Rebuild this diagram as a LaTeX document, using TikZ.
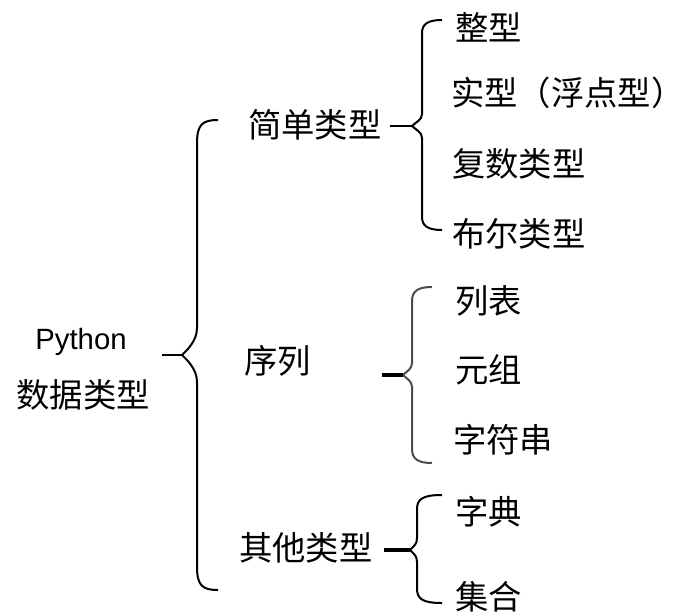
\documentclass[tikz,border=0pt]{standalone}
\usepackage{fontspec}
\setmainfont{Noto Sans CJK SC}
\newfontfamily\latinfont{Liberation Sans}
\newfontfamily\halfpunct[RawFeature=+halt]{Noto Sans CJK SC}
\newcommand\drawbrace[9]{% #1 style, #2 xe, #3 xv, #4 xt, #5 yt, #6 ym, #7 yb, #8 hook, #9 tip half-height
  \draw[#1] (#2,#5) .. controls (#3+6,#5) and (#3,#5+4) .. (#3,#5+#8)
    -- (#3,#6-#9) .. controls (#3,#6-#9/2) and (#4+4,#6-4) .. (#4,#6)
    .. controls (#4+4,#6+4) and (#3,#6+#9/2) .. (#3,#6+#9)
    -- (#3,#7-#8) .. controls (#3,#7-4) and (#3+6,#7) .. (#2,#7);}
\begin{document}
\begin{tikzpicture}[x=0.75pt,y=-0.75pt,
  lbl/.style={inner sep=0pt,anchor=west,font=\fontsize{25}{30}\selectfont},
  bracestyle/.style={line width=1.5pt,black},
  stub/.style={line width=1.5pt,black},
  thickstub/.style={line width=3pt,black}]
\useasboundingbox (0,0) rectangle (673,616);
% root
\node[inner sep=0pt,font=\latinfont\fontsize{22}{26}\selectfont] (py) at (81,342) {Python};
\node[inner sep=0pt,font=\fontsize{25}{30}\selectfont] (root) at (83,395) {数据类型};
% level 1
\node[lbl] (simple) at (248,125) {简单类型};
\node[lbl] (seq) at (244,361) {序列};
\node[lbl] (other) at (239,548) {其他类型};
% level 2
\node[lbl] (int) at (455,27) {整型};
\node[lbl] (float) at (451,93) {实型（浮点型{\halfpunct ）}};
\node[lbl] (complex) at (452,164) {复数类型};
\node[lbl] (bool) at (452,234) {布尔类型};
\node[lbl] (list) at (455,301) {列表};
\node[lbl] (tuple) at (455,370) {元组};
\node[lbl] (str) at (453,440) {字符串};
\node[lbl] (dict) at (455,512) {字典};
\node[lbl] (set) at (455,597) {集合};
% brace tips
\coordinate (t1) at (182,355); \coordinate (s1) at (162,355);
\coordinate (t2) at (412,126); \coordinate (s2) at (390,126);
\coordinate (t3) at (403,375); \coordinate (s3) at (382,375);
\coordinate (t4) at (410,550); \coordinate (s4) at (384,550);
% braces
\drawbrace{bracestyle}{218}{197}{182}{120}{355}{590}{23}{27}
\drawbrace{bracestyle}{442}{422}{412}{20}{126}{230}{13}{12}
\drawbrace{bracestyle,black!70}{432}{412}{403}{287}{375}{463}{14}{12}
\drawbrace{bracestyle}{442}{417}{410}{495}{550}{603}{14}{12}
% stubs
\draw[stub] (s1) -- (t1);
\draw[stub] (s2) -- (t2);
\draw[thickstub] (s3) -- (t3);
\draw[thickstub] (s4) -- (t4);
\end{tikzpicture}
\end{document}
